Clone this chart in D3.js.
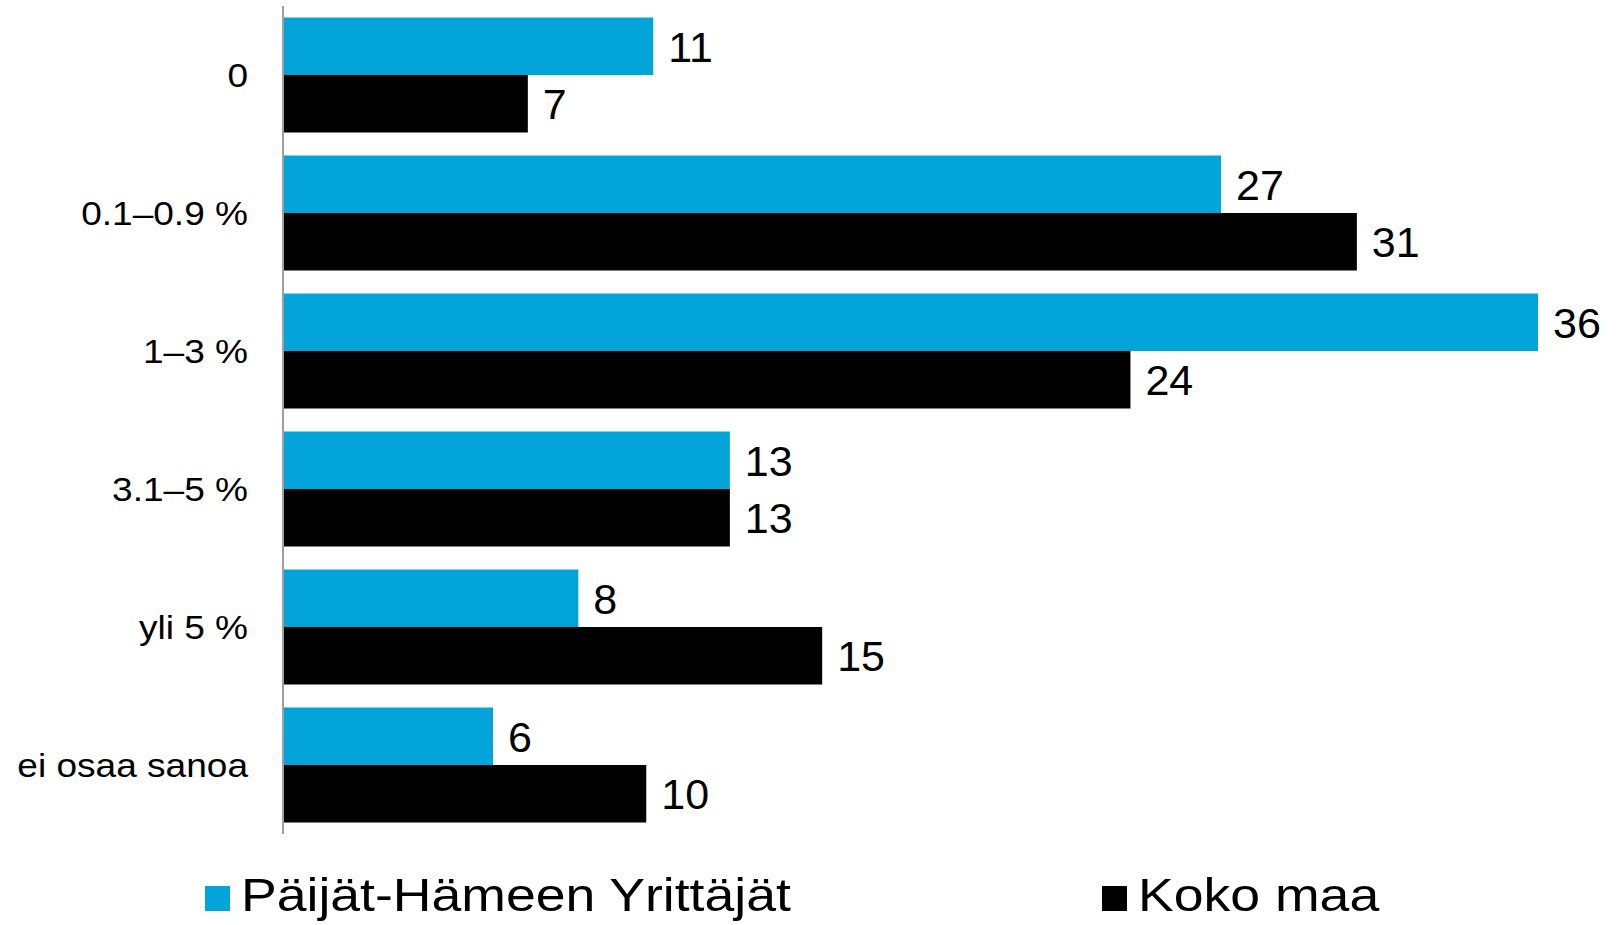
<!DOCTYPE html>
<html>
<head>
<meta charset="utf-8">
<script src="https://cdn.jsdelivr.net/npm/d3@7"></script>
<style>
  body { margin: 0; background: #fff; }
  svg { font-family: "Liberation Sans", Arial, sans-serif; }
</style>
</head>
<body>
<svg id="chart" width="1616" height="925"></svg>
<script>
// data (bar lengths, labels are the rounded values)
const categories = ['0', '0.1–0.9 %', '1–3 %', '3.1–5 %', 'yli 5 %', 'ei osaa sanoa'];
const seriesNames = ['Päijät-Hämeen Yrittäjät', 'Koko maa'];
const paijatHame = [10.6, 26.9, 36.0, 12.8, 8.45, 6.0];
const kokoMaa = [7.0, 30.8, 24.3, 12.8, 15.45, 10.4];
const colors = ['#03a4da', '#000000'];

const svg = d3.select('#chart');
const margin = { top: 6, left: 284, right: 78, bottom: 91 };
const width = 1616 - margin.left - margin.right;
const height = 925 - margin.top - margin.bottom;

const g = svg.append('g').attr('transform', `translate(${margin.left},${margin.top})`);

const y = d3.scaleBand().domain(categories).range([0, height])
    .paddingInner(1 / 6).paddingOuter(1 / 12);
const inner = d3.scaleBand().domain([0, 1]).range([0, y.bandwidth()]);
const x = d3.scaleLinear().domain([0, 36]).range([0, width]);

const rows = categories.map((c, i) => ({ cat: c, vals: [paijatHame[i], kokoMaa[i]] }));

const groups = g.selectAll('.cat').data(rows).join('g')
    .attr('transform', d => `translate(0,${y(d.cat)})`);

groups.selectAll('rect').data(d => d.vals).join('rect')
    .attr('x', 0)
    .attr('y', (d, i) => inner(i))
    .attr('width', d => x(d))
    .attr('height', inner.bandwidth())
    .attr('fill', (d, i) => colors[i]);

groups.selectAll('text').data(d => d.vals).join('text')
    .attr('x', d => x(d) + 15)
    .attr('y', (d, i) => inner(i) + inner.bandwidth() / 2)
    .attr('dy', '0.36em')
    .style('font-size', '43px')
    .text(d => Math.round(d));

// y axis: line plus labels, no ticks
g.append('line')
    .attr('x1', -1).attr('x2', -1)
    .attr('y1', 0).attr('y2', height)
    .attr('stroke', '#a0a0a0').attr('stroke-width', 2);

g.selectAll('.ylab').data(categories).join('text')
    .attr('transform', d => `translate(-36,${y(d) + y.bandwidth() / 2}) scale(1.09,1)`)
    .attr('dy', '0.36em')
    .attr('text-anchor', 'end')
    .style('font-size', '34px')
    .text(d => d);

// legend
const legendX = [205, 1102];
const legend = svg.selectAll('.legend').data(seriesNames).join('g')
    .attr('transform', (d, i) => `translate(${legendX[i]},886)`);
legend.append('rect')
    .attr('width', 25).attr('height', 25)
    .attr('fill', (d, i) => colors[i]);
legend.append('text')
    .attr('transform', 'translate(36,25) scale(1.165,1)')
    .style('font-size', '46px')
    .text(d => d);
</script>
</body>
</html>
